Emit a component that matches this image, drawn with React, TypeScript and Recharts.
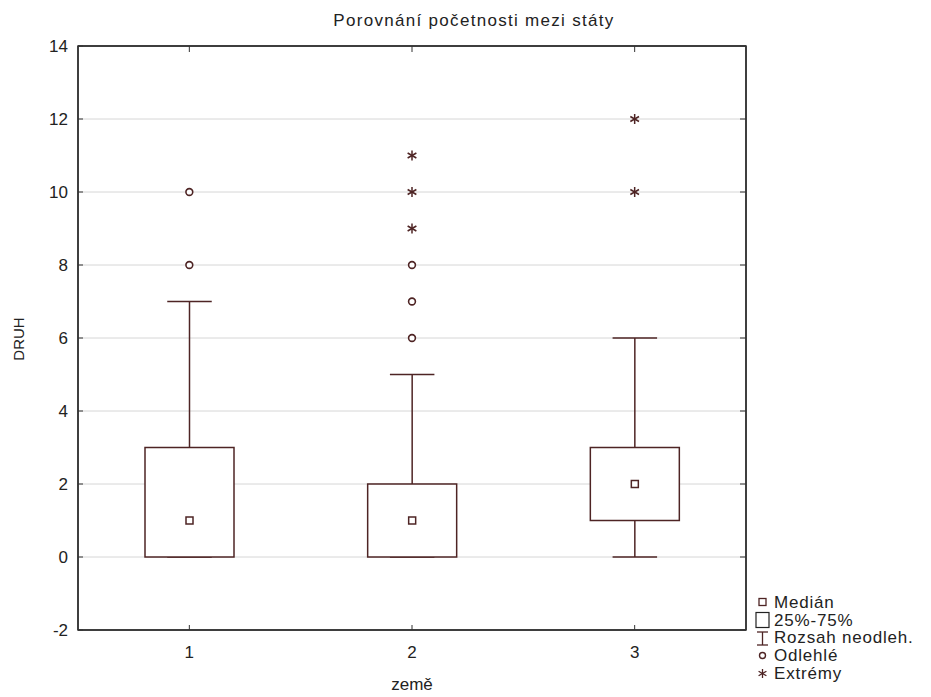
import { ComposedChart, Bar, Scatter, XAxis, YAxis, CartesianGrid, ReferenceArea } from 'recharts'

const categories = ['1', '2', '3']
const mins = [0, 0, 0]
const q1s = [0, 0, 1]
const medians = [1, 1, 2]
const q3s = [3, 2, 3]
const maxs = [7, 5, 6]

const outlierCats = ['1', '1', '2', '2', '2']
const outlierValues = [8, 10, 6, 7, 8]
const extremeCats = ['2', '2', '2', '3', '3']
const extremeValues = [9, 10, 11, 10, 12]

const yTicks = [-2, 0, 2, 4, 6, 8, 10, 12, 14]

const BOX = '#4e2424'
const FRAME = '#333'
const FONT = '"Liberation Sans", Arial, sans-serif'

const data = categories.map((zeme, i) => ({
  zeme,
  min: mins[i],
  q1: q1s[i],
  median: medians[i],
  q3: q3s[i],
  max: maxs[i],
}))
const outliers = outlierCats.map((zeme, i) => ({ zeme, v: outlierValues[i] }))
const extremes = extremeCats.map((zeme, i) => ({ zeme, v: extremeValues[i] }))

function BoxShape(props: any) {
  const { x, y, width, height, payload } = props
  const top = Math.min(y, y + height)
  const h = Math.abs(height)
  const unit = h / (payload.max - payload.min)
  const yOf = (v: number) => top + (payload.max - v) * unit
  const cx = x + width / 2
  const cap = width / 2
  return (
    <g stroke={BOX} strokeWidth={1.5} fill="none">
      <line x1={cx} x2={cx} y1={yOf(payload.max)} y2={yOf(payload.q3)} />
      <line x1={cx - cap / 2} x2={cx + cap / 2} y1={yOf(payload.max)} y2={yOf(payload.max)} />
      <line x1={cx} x2={cx} y1={yOf(payload.q1)} y2={yOf(payload.min)} />
      <line x1={cx - cap / 2} x2={cx + cap / 2} y1={yOf(payload.min)} y2={yOf(payload.min)} />
      <rect x={x} y={yOf(payload.q3)} width={width} height={yOf(payload.q1) - yOf(payload.q3)} fill="#fff" />
      <rect x={cx - 3.5} y={yOf(payload.median) - 3.5} width={7} height={7} />
    </g>
  )
}

function Circle(props: any) {
  const { cx, cy } = props
  return <circle cx={cx} cy={cy} r={3.4} fill="#fff" stroke={BOX} strokeWidth={1.6} />
}

function Star(props: any) {
  const { cx, cy } = props
  const r = 5
  return (
    <g stroke={BOX} strokeWidth={1.5}>
      <line x1={cx} x2={cx} y1={cy - r} y2={cy + r} />
      <line x1={cx - r * 0.87} x2={cx + r * 0.87} y1={cy - r / 2} y2={cy + r / 2} />
      <line x1={cx - r * 0.87} x2={cx + r * 0.87} y1={cy + r / 2} y2={cy - r / 2} />
    </g>
  )
}

const Nothing = () => <g />

function BottomTick({ x, y, payload }: any) {
  return (
    <g>
      <line x1={x} x2={x} y1={y} y2={y - 5} stroke={FRAME} />
      <text x={x} y={y + 28} textAnchor="middle" fontSize={17} fill="#222" fontFamily={FONT}>
        {payload.value}
      </text>
    </g>
  )
}

function TopTick({ x, y }: any) {
  return <line x1={x} x2={x} y1={y} y2={y + 6} stroke={FRAME} />
}

function LeftTick({ x, y, payload }: any) {
  return (
    <g>
      <line x1={x} x2={x + 5} y1={y} y2={y} stroke={FRAME} />
      <text x={x - 10} y={y + 6} textAnchor="end" fontSize={17} fill="#222" fontFamily={FONT}>
        {payload.value}
      </text>
    </g>
  )
}

function RightTick({ x, y }: any) {
  return <line x1={x} x2={x - 6} y1={y} y2={y} stroke={FRAME} />
}

const legendItems = [
  { label: 'Medián', icon: <rect x={4} y={5.5} width={7} height={7} fill="none" stroke={BOX} strokeWidth={1.3} /> },
  { label: '25%-75%', icon: <rect x={1} y={1.5} width={13} height={15} fill="none" stroke="#222" strokeWidth={1.2} /> },
  {
    label: 'Rozsah neodleh.',
    icon: (
      <g stroke={BOX} strokeWidth={1.3}>
        <line x1={2} x2={13} y1={3} y2={3} />
        <line x1={7.5} x2={7.5} y1={3} y2={16} />
        <line x1={2} x2={13} y1={16} y2={16} />
      </g>
    ),
  },
  { label: 'Odlehlé', icon: <circle cx={7.5} cy={9.5} r={3} fill="none" stroke={BOX} strokeWidth={1.4} /> },
  {
    label: 'Extrémy',
    icon: (
      <g stroke={BOX} strokeWidth={1.3}>
        <line x1={7.5} x2={7.5} y1={5} y2={14} />
        <line x1={3.6} x2={11.4} y1={7.2} y2={11.8} />
        <line x1={3.6} x2={11.4} y1={11.8} y2={7.2} />
      </g>
    ),
  },
]

export default function App() {
  return (
    <div style={{ position: 'absolute', left: 0, top: 0, width: 931, height: 697, background: '#fff', fontFamily: FONT, overflow: 'hidden' }}>
      <ComposedChart
        width={931}
        height={697}
        data={data}
        margin={{ top: 45, right: 184, bottom: 37, left: 0 }}
      >
        <CartesianGrid vertical={false} stroke="#d6d6d6" strokeWidth={1} />
        <XAxis
          dataKey="zeme"
          type="category"
          allowDuplicatedCategory={false}
          height={30}
          tickSize={0}
          tickMargin={0}
          tickLine={false}
          tick={<BottomTick />}
          axisLine={{ stroke: FRAME, strokeWidth: 1.5 }}
        />
        <XAxis
          xAxisId="top"
          dataKey="zeme"
          orientation="top"
          type="category"
          allowDuplicatedCategory={false}
          height={1}
          tickSize={0}
          tickMargin={0}
          tickLine={false}
          tick={<TopTick />}
          axisLine={{ stroke: FRAME, strokeWidth: 1.5 }}
        />
        <YAxis
          domain={[-2, 14]}
          ticks={yTicks}
          width={78}
          tickSize={0}
          tickMargin={0}
          tickLine={false}
          tick={<LeftTick />}
          axisLine={{ stroke: FRAME, strokeWidth: 1.5 }}
          allowDataOverflow
        />
        <YAxis
          yAxisId="right"
          orientation="right"
          domain={[-2, 14]}
          ticks={yTicks}
          width={1}
          tickSize={0}
          tickMargin={0}
          tickLine={false}
          tick={<RightTick />}
          axisLine={{ stroke: FRAME, strokeWidth: 1.5 }}
          allowDataOverflow
        />
        <ReferenceArea y1={-2} y2={14} fill="none" stroke={FRAME} strokeWidth={1.5} fillOpacity={0} />
        <Bar
          dataKey={(d: any) => [d.min, d.max]}
          barSize={89}
          shape={<BoxShape />}
          isAnimationActive={false}
        />
        <Scatter data={outliers} dataKey="v" shape={<Circle />} isAnimationActive={false} />
        <Scatter data={extremes} dataKey="v" shape={<Star />} isAnimationActive={false} />
        <Scatter xAxisId="top" yAxisId="right" dataKey="median" shape={<Nothing />} isAnimationActive={false} />
      </ComposedChart>
      <div style={{ position: 'absolute', left: 0, top: 11, width: 948, textAlign: 'center', fontSize: 17, letterSpacing: 1.3, color: '#222' }}>
        Porovnání početnosti mezi státy
      </div>
      <div
        style={{
          position: 'absolute',
          left: 18,
          top: 339,
          transform: 'translate(-50%, -50%) rotate(-90deg)',
          fontSize: 15,
          color: '#222',
        }}
      >
        DRUH
      </div>
      <div style={{ position: 'absolute', left: 412, top: 675, transform: 'translateX(-50%)', fontSize: 17, color: '#222' }}>
        země
      </div>
      <div style={{ position: 'absolute', left: 755, top: 594, fontSize: 17, letterSpacing: 0.8, color: '#222', whiteSpace: 'nowrap' }}>
        {legendItems.map((it) => (
          <div key={it.label} style={{ display: 'flex', alignItems: 'center', height: 17.7 }}>
            <svg width={16} height={19} style={{ marginRight: 3, overflow: 'visible', flexShrink: 0 }}>
              {it.icon}
            </svg>
            <span>{it.label}</span>
          </div>
        ))}
      </div>
    </div>
  )
}
